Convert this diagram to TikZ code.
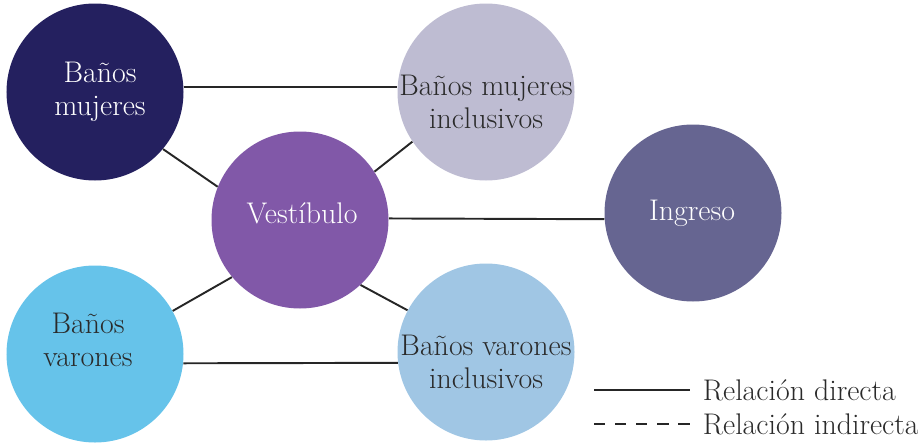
\documentclass[tikz,border=0pt]{standalone}
\usepackage{fontspec}
\usepackage{tikz}
\usepackage{xcolor}
\definecolor{mujeres}{HTML}{24205F}
\definecolor{mujeresinc}{HTML}{BEBCD2}
\definecolor{vestibulo}{HTML}{8158A8}
\definecolor{ingreso}{HTML}{666591}
\definecolor{varones}{HTML}{66C3EA}
\definecolor{varonesinc}{HTML}{A0C6E4}
\definecolor{darktext}{HTML}{2A2A2A}

\begin{document}
\begin{tikzpicture}[
  room/.style={circle, minimum size=3.54cm, inner sep=0pt},
  roomtext/.style={align=center, font=\fontsize{17}{19}\selectfont},
  link/.style={line width=1.1pt, draw=black!85}
]
  \useasboundingbox (0,0) rectangle (18.36,8.88);
  % rooms
  \node[room, fill=mujeres] (bm) at (1.9,7.04) {};
  \node[room, fill=mujeresinc] (bmi) at (9.72,7.04) {};
  \node[room, fill=vestibulo] (ves) at (6.0,4.48) {};
  \node[room, fill=ingreso] (ing) at (13.86,4.62) {};
  \node[room, fill=varones] (bv) at (1.9,1.8) {};
  \node[room, fill=varonesinc] (bvi) at (9.72,1.84) {};
  % labels
  \node[roomtext, white] (bmlabel) at ([shift={(0.1,0)}]bm.center) {Baños\\mujeres};
  \node[roomtext, darktext] (bmilabel) at ([shift={(0,-0.2)}]bmi.center) {Baños mujeres\\inclusivos};
  \node[roomtext, white] (veslabel) at ([shift={(0.04,0.14)}]ves.center) {Vestíbulo};
  \node[roomtext, white] (inglabel) at ([shift={(-0.02,0)}]ing.center) {Ingreso};
  \node[roomtext, darktext] (bvlabel) at ([shift={(-0.14,0.28)}]bv.center) {Baños\\varones};
  \node[roomtext, darktext] (bvilabel) at ([shift={(0,-0.2)}]bvi.center) {Baños varones\\inclusivos};
  % links
  \draw[link] (bm.3) -- (bmi.177);
  \draw[link] (bm.-40) -- (ves.158);
  \draw[link] (ves.33) -- (bmi.214);
  \draw[link] (ves.1) -- (ing.184);
  \draw[link] (ves.220) -- (bv.29);
  \draw[link] (ves.-47) -- (bvi.152);
  \draw[link] (bv.-6) -- (bvi.187);
  % legend
  \coordinate (solidA) at (11.88,1.08);
  \coordinate (solidB) at (13.8,1.08);
  \coordinate (dashA) at (11.88,0.4);
  \coordinate (dashB) at (13.8,0.4);
  \draw[link] (solidA) -- (solidB) node[right, xshift=0.12cm, roomtext, darktext] (solidtext) {Relación directa};
  \draw[link, dash pattern=on 6.4pt off 5.6pt] (dashA) -- (dashB) node[right, xshift=0.12cm, roomtext, darktext] (dashtext) {Relación indirecta};
\end{tikzpicture}
\end{document}
